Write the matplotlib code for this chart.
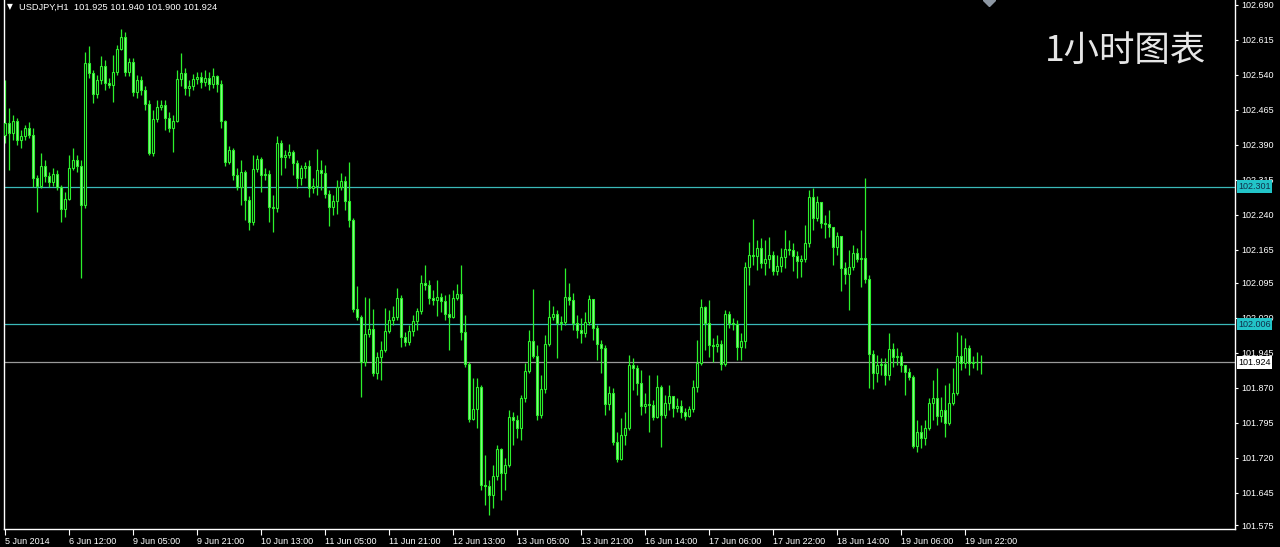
import numpy as np
import pandas as pd
import matplotlib
matplotlib.use("Agg")
import matplotlib.pyplot as plt
import matplotlib.transforms as mtransforms

plt.rcParams['font.family'] = ['Liberation Sans', 'DejaVu Sans']

symbol = "USDJPY,H1"
quote = "101.925 101.940 101.900 101.924"
first_open = 102.411

# hourly closes, highs and lows (bar 0 = 5 Jun 20:00)
close = [
    102.437, 102.416, 102.441, 102.401, 102.409, 102.426, 102.411, 102.319, 102.302, 102.345,
    102.324, 102.311, 102.328, 102.300, 102.253, 102.274, 102.341, 102.358, 102.345, 102.261,
    102.566, 102.544, 102.499, 102.529, 102.559, 102.523, 102.519, 102.547, 102.596, 102.622,
    102.547, 102.568, 102.504, 102.529, 102.508, 102.478, 102.373, 102.446, 102.471, 102.476,
    102.448, 102.426, 102.441, 102.532, 102.544, 102.512, 102.517, 102.532, 102.536, 102.525,
    102.534, 102.521, 102.538, 102.521, 102.441, 102.353, 102.379, 102.326, 102.300, 102.332,
    102.272, 102.225, 102.339, 102.360, 102.326, 102.328, 102.257, 102.255, 102.394, 102.364,
    102.369, 102.375, 102.351, 102.319, 102.341, 102.345, 102.298, 102.302, 102.336, 102.330,
    102.285, 102.257, 102.270, 102.300, 102.313, 102.270, 102.229, 102.039, 102.021, 101.925,
    101.985, 101.996, 101.902, 101.936, 101.951, 101.991, 102.015, 102.021, 102.062, 101.979,
    101.968, 101.991, 102.013, 102.034, 102.094, 102.090, 102.062, 102.058, 102.064, 102.056,
    102.028, 102.021, 102.062, 102.071, 101.989, 101.921, 101.803, 101.824, 101.872, 101.661,
    101.659, 101.640, 101.681, 101.739, 101.687, 101.704, 101.807, 101.801, 101.784, 101.848,
    101.906, 101.970, 101.938, 101.812, 101.867, 101.964, 102.021, 102.028, 102.009, 102.011,
    102.064, 102.058, 102.009, 101.994, 101.987, 102.011, 102.060, 101.998, 101.964, 101.955,
    101.835, 101.859, 101.754, 101.717, 101.769, 101.784, 101.919, 101.912, 101.880, 101.831,
    101.835, 101.833, 101.807, 101.872, 101.812, 101.837, 101.852, 101.827, 101.831, 101.818,
    101.809, 101.824, 101.872, 101.923, 102.043, 102.009, 101.961, 101.959, 101.964, 101.921,
    102.028, 102.009, 102.006, 101.957, 101.970, 102.129, 102.154, 102.152, 102.169, 102.137,
    102.146, 102.154, 102.120, 102.131, 102.150, 102.167, 102.165, 102.152, 102.142, 102.146,
    102.180, 102.279, 102.234, 102.268, 102.223, 102.221, 102.214, 102.171, 102.195, 102.127,
    102.114, 102.129, 102.159, 102.146, 102.148, 102.103, 101.942, 101.902, 101.919, 101.921,
    101.897, 101.953, 101.936, 101.938, 101.919, 101.904, 101.893, 101.745, 101.775, 101.762,
    101.784, 101.837, 101.848, 101.809, 101.822, 101.794, 101.837, 101.859, 101.938, 101.923,
    101.955, 101.923, 101.925, 101.925, 101.924,
]
high = [
    102.529, 102.469, 102.454, 102.448, 102.422, 102.433, 102.439, 102.426, 102.326, 102.373,
    102.358, 102.332, 102.341, 102.336, 102.304, 102.289, 102.369, 102.384, 102.369, 102.358,
    102.589, 102.602, 102.551, 102.540, 102.581, 102.572, 102.534, 102.583, 102.605, 102.639,
    102.632, 102.577, 102.577, 102.540, 102.538, 102.517, 102.486, 102.465, 102.486, 102.486,
    102.486, 102.461, 102.454, 102.551, 102.587, 102.555, 102.529, 102.542, 102.547, 102.547,
    102.551, 102.547, 102.555, 102.540, 102.529, 102.444, 102.388, 102.384, 102.341, 102.358,
    102.336, 102.281, 102.369, 102.369, 102.364, 102.341, 102.336, 102.283, 102.409, 102.401,
    102.379, 102.392, 102.379, 102.358, 102.347, 102.353, 102.358, 102.319, 102.382, 102.358,
    102.347, 102.294, 102.283, 102.315, 102.330, 102.324, 102.353, 102.234, 102.088, 102.026,
    102.064, 102.062, 102.039, 101.946, 101.970, 102.041, 102.036, 102.045, 102.084, 102.069,
    101.989, 102.004, 102.026, 102.041, 102.111, 102.133, 102.101, 102.079, 102.101, 102.073,
    102.069, 102.071, 102.079, 102.092, 102.133, 102.026, 101.925, 101.891, 101.891, 101.876,
    101.726, 101.672, 101.704, 101.747, 101.741, 101.720, 101.822, 101.818, 101.812, 101.854,
    101.923, 101.994, 102.081, 101.961, 101.897, 101.983, 102.058, 102.045, 102.036, 102.024,
    102.127, 102.094, 102.073, 102.026, 102.019, 102.032, 102.069, 102.030, 102.004, 101.972,
    101.961, 101.874, 101.870, 101.775, 101.805, 101.818, 101.940, 101.934, 101.919, 101.908,
    101.859, 101.897, 101.844, 101.897, 101.876, 101.854, 101.876, 101.852, 101.848, 101.844,
    101.827, 101.831, 101.887, 101.972, 102.060, 102.045, 102.058, 101.976, 101.983, 101.972,
    102.036, 102.034, 102.019, 102.015, 101.987, 102.139, 102.182, 102.231, 102.186, 102.191,
    102.186, 102.193, 102.163, 102.154, 102.169, 102.208, 102.186, 102.180, 102.163, 102.154,
    102.219, 102.294, 102.298, 102.281, 102.261, 102.240, 102.251, 102.212, 102.204, 102.186,
    102.139, 102.165, 102.176, 102.169, 102.208, 102.319, 102.111, 101.951, 101.940, 101.934,
    101.934, 101.987, 101.966, 101.955, 101.946, 101.919, 101.912, 101.897, 101.801, 101.790,
    101.801, 101.848, 101.887, 101.912, 101.850, 101.876, 101.880, 101.912, 101.989, 101.983,
    101.976, 101.961, 101.938, 101.946, 101.940,
]
low = [
    102.394, 102.336, 102.401, 102.390, 102.384, 102.401, 102.405, 102.300, 102.246, 102.298,
    102.311, 102.300, 102.302, 102.294, 102.225, 102.236, 102.272, 102.336, 102.332, 102.105,
    102.255, 102.534, 102.480, 102.491, 102.521, 102.508, 102.512, 102.482, 102.540, 102.594,
    102.538, 102.538, 102.495, 102.491, 102.497, 102.465, 102.369, 102.366, 102.439, 102.465,
    102.422, 102.418, 102.375, 102.439, 102.517, 102.497, 102.495, 102.508, 102.521, 102.512,
    102.517, 102.508, 102.512, 102.504, 102.426, 102.345, 102.349, 102.315, 102.294, 102.261,
    102.229, 102.208, 102.219, 102.332, 102.289, 102.315, 102.225, 102.204, 102.246, 102.326,
    102.341, 102.362, 102.326, 102.298, 102.304, 102.319, 102.279, 102.287, 102.283, 102.294,
    102.276, 102.217, 102.240, 102.242, 102.294, 102.251, 102.214, 102.032, 102.015, 101.850,
    101.917, 101.979, 101.895, 101.889, 101.887, 101.946, 101.987, 102.004, 102.015, 101.957,
    101.959, 101.961, 101.981, 101.994, 102.028, 102.079, 102.049, 102.047, 102.024, 102.032,
    102.015, 101.951, 102.019, 102.058, 101.972, 101.914, 101.796, 101.801, 101.784, 101.651,
    101.619, 101.597, 101.612, 101.672, 101.629, 101.651, 101.700, 101.747, 101.762, 101.758,
    101.839, 101.902, 101.934, 101.801, 101.805, 101.859, 101.959, 102.015, 101.934, 101.994,
    102.004, 102.047, 101.994, 101.976, 101.966, 101.979, 102.004, 101.972, 101.929, 101.902,
    101.812, 101.822, 101.747, 101.711, 101.715, 101.747, 101.779, 101.865, 101.854, 101.812,
    101.816, 101.775, 101.801, 101.805, 101.743, 101.805, 101.822, 101.807, 101.818, 101.805,
    101.801, 101.807, 101.818, 101.861, 101.919, 101.951, 101.936, 101.925, 101.946, 101.908,
    101.917, 101.998, 101.994, 101.929, 101.929, 101.955, 102.090, 102.133, 102.122, 102.127,
    102.111, 102.127, 102.111, 102.111, 102.118, 102.127, 102.154, 102.120, 102.105, 102.107,
    102.139, 102.171, 102.208, 102.227, 102.212, 102.191, 102.193, 102.133, 102.154, 102.077,
    102.092, 102.036, 102.122, 102.139, 102.086, 102.094, 101.870, 101.867, 101.882, 101.897,
    101.876, 101.887, 101.914, 101.919, 101.904, 101.854, 101.887, 101.741, 101.732, 101.741,
    101.747, 101.779, 101.801, 101.790, 101.796, 101.764, 101.790, 101.833, 101.854, 101.908,
    101.912, 101.897, 101.912, 101.908, 101.900,
]

levels = [102.301, 102.006]
bid = 101.924
price_ticks = [102.690, 102.615, 102.540, 102.465, 102.390, 102.315, 102.240, 102.165,
               102.095, 102.020, 101.945, 101.870, 101.795, 101.720, 101.645, 101.575]

# hourly bars, market closed from Friday 23:00 to Monday 00:00
times = pd.date_range("2014-06-05 20:00", "2014-06-20 02:00", freq="h")
times = times[(times.dayofweek < 5) & ~((times.dayofweek == 4) & (times.hour == 23))]

c = np.array(close)
o = np.r_[first_open, c[:-1]]
h = np.maximum(np.array(high), np.maximum(o, c))
l = np.minimum(np.array(low), np.minimum(o, c))
x = np.arange(len(c))
up = c >= o

green = "#2cf02c"
bear_fill = "#90f590"
cyan = "#3ab9b9"

fig = plt.figure(figsize=(12.8, 5.47), dpi=100, facecolor="black")
ax = fig.add_axes([4 / 1280, 18 / 547, 1231 / 1280, 529 / 547])
ax.set_facecolor("black")

ax.vlines(x, l, h, color=green, lw=0.9, zorder=2)
ax.bar(x[up], (c - o)[up], bottom=o[up], width=0.55, facecolor="black",
       edgecolor=green, lw=0.8, zorder=3)
ax.bar(x[~up], (o - c)[~up], bottom=c[~up], width=0.55, facecolor=bear_fill,
       edgecolor=green, lw=0.8, zorder=3)

for lv in levels:
    ax.axhline(lv, color=cyan, lw=0.9, zorder=1)
ax.axhline(bid, color="#9a9a9a", lw=0.9, zorder=1)

ax.set_xlim(-0.25, 307.5)
ax.set_ylim(101.5671, 102.7007)

# shift marker at the top
ax.plot([246], [102.7007], marker="D", ms=6, color="#8d97a3", zorder=4, clip_on=True)

for s in ["left", "bottom", "right"]:
    ax.spines[s].set_color("white")
    ax.spines[s].set_linewidth(1)
ax.spines["top"].set_visible(False)

idx = list(range(0, len(times), 16))
xlabels = ["5 Jun 2014" if i == 0 else f"{times[i].day} {times[i]:%b %H:%M}" for i in idx]
ax.set_xticks(idx)
ax.set_xticklabels(xlabels, ha="left")
ax.tick_params(axis="x", colors="white", labelsize=6.5, length=4, width=0.8, pad=2)

ax.yaxis.tick_right()
ax.set_yticks(price_ticks)
ax.set_yticklabels([f"{p:.3f}" for p in price_ticks])
ax.tick_params(axis="y", colors="white", labelsize=6.5, length=2.5, width=0.8, pad=2)

trans = mtransforms.blended_transform_factory(ax.transAxes, ax.transData)
for lv in levels:
    ax.text(1.0026, lv, f"{lv:.3f}", transform=trans, fontsize=6.5, color="#10304a",
            va="center", ha="left", zorder=10, clip_on=False,
            bbox=dict(boxstyle="square,pad=0.18", fc="#22c4c8", ec="none"))
ax.text(1.0026, bid, f"{bid:.3f}", transform=trans, fontsize=6.5, color="black",
        va="center", ha="left", zorder=10, clip_on=False,
        bbox=dict(boxstyle="square,pad=0.18", fc="white", ec="none"))

fig.text(7 / 1280, 1 - 7 / 547, "\u25bc", color="white", fontsize=5.5, va="center",
         family=["DejaVu Sans"])
fig.text(19 / 1280, 1 - 7 / 547, f"{symbol}  {quote}", color="white", fontsize=6.7,
         va="center")

fig.text(1045 / 1280, 1 - 51 / 547, "1小时图表", color="#e6e6e6", fontsize=25.5,
         va="center", ha="left", family=["Noto Sans CJK SC", "DejaVu Sans"],
         fontweight="light")

fig.savefig("out.png", dpi=100, facecolor="black")
